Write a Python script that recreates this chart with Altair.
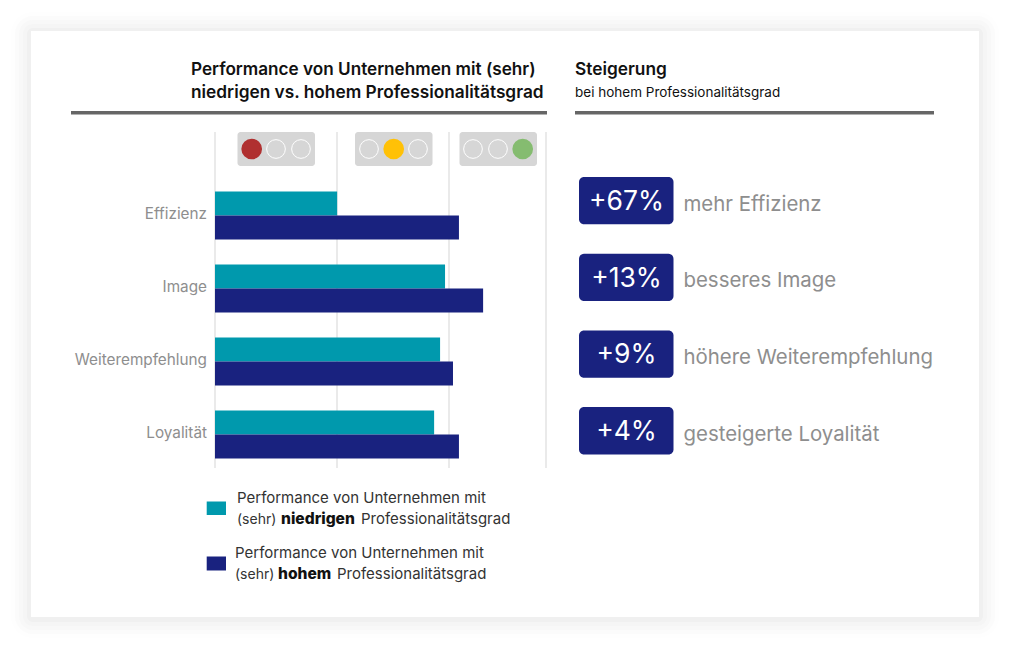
import altair as alt
import pandas as pd

categories = ["Effizienz", "Image", "Weiterempfehlung", "Loyalität"]
low_values = [36.9, 69.5, 68.0, 66.2]
high_values = [73.7, 81.0, 71.9, 73.7]
series_names = ["niedrig", "hoch"]
increase_labels = ["+67%", "+13%", "+9%", "+4%"]
increase_texts = ["mehr Effizienz", "besseres Image", "höhere Weiterempfehlung", "gesteigerte Loyalität"]
title_lines = ["Performance von Unternehmen mit (sehr)", "niedrigen vs. hohem Professionalitätsgrad"]
right_title = "Steigerung"
right_sub = "bei hohem Professionalitätsgrad"
legend_line = "Performance von Unternehmen mit"

TEAL = "#0099ad"
NAVY = "#19227f"
GREY = "#8e8e8e"
FONT = "Inter"
M = 8  # page margin: layout numbers below are in page pixels


def rect(x, x2, y, y2, color, radius=0, opacity=1):
    return alt.Chart(alt.Data(values=[{"k": 1}])).mark_rect(
        color=color, cornerRadius=radius, opacity=opacity
    ).encode(x=alt.value(x - M), x2=alt.value(x2 - M), y=alt.value(y - M), y2=alt.value(y2 - M))


def text(s, x, y, size, color="#111111", weight=400, align="left"):
    return alt.Chart(alt.Data(values=[{"k": 1}])).mark_text(
        text=s, font=FONT, fontSize=size, fontWeight=weight, color=color, align=align, baseline="alphabetic"
    ).encode(x=alt.value(x - M), y=alt.value(y - M))


def dot(x, y, fill):
    kw = dict(fill=fill, stroke=fill, fillOpacity=1) if fill else dict(fill="#d6d6d6", stroke="#ffffff", strokeWidth=1, fillOpacity=1)
    return alt.Chart(alt.Data(values=[{"k": 1}])).mark_point(shape="circle", size=350, **kw).encode(
        x=alt.value(x - M), y=alt.value(y - M)
    )


layers = []

# card shadow and card
for grow, col in [(20, "#fefefe"), (16, "#fbfbfb"), (12, "#f8f8f8"), (8, "#f5f5f5"), (4, "#f0f0f0")]:
    layers.append(rect(31 - grow, 979 + grow, 32 - grow, 618 + grow, col, radius=grow + 2))
layers.append(rect(31, 979, 31, 617, "#ffffff"))

# header
layers += [
    text(title_lines[0], 191, 75, 17.15, weight=600),
    text(title_lines[1], 191, 98, 17.3, weight=600),
    text(right_title, 575, 75, 17.3, weight=600),
    text(right_sub, 575, 97, 13.5),
    rect(71, 547, 111, 114.5, "#666666"),
    rect(575, 934, 111, 114.5, "#666666"),
]

# grid lines
for gx in [215, 337, 449, 546]:
    layers.append(rect(gx - 0.5, gx + 0.5, 132, 468, "#d6d6d6"))

# traffic lights
for bx, bx2, cxs, lit, col in [
    (237.5, 315, [251.7, 276, 301], 0, "#b03030"),
    (355, 432.5, [369, 393.7, 418], 1, "#ffc107"),
    (459.5, 537, [473, 498, 522.7], 2, "#85bc70"),
]:
    layers.append(rect(bx, bx2, 132, 166, "#d6d6d6", radius=3))
    for i, cx in enumerate(cxs):
        layers.append(dot(cx, 149, col if i == lit else None))

# bars
df = pd.DataFrame(
    {
        "category": categories * 2,
        "value": low_values + high_values,
        "series": [series_names[0]] * 4 + [series_names[1]] * 4,
    }
)
y_scale = alt.Scale(domain=categories, range=[179 - M, 471 - M], paddingInner=0, paddingOuter=0)
bars = alt.Chart(df).mark_bar(size=24).encode(
    x=alt.X("value:Q", scale=alt.Scale(domain=[0, 100], range=[215 - M, 546 - M]), axis=None),
    y=alt.Y("category:N", scale=y_scale, axis=None),
    yOffset=alt.YOffset("series:N", sort=series_names, scale=alt.Scale(paddingOuter=0.52, paddingInner=0)),
    color=alt.Color("series:N", scale=alt.Scale(domain=series_names, range=[TEAL, NAVY]), legend=None),
)
layers.append(bars)
labels = alt.Chart(pd.DataFrame({"category": categories})).mark_text(
    font=FONT, fontSize=15.3, color=GREY, align="right", baseline="middle", dy=-1.5
).encode(
    x=alt.value(207 - M),
    y=alt.Y("category:N", scale=y_scale, axis=None),
    text="category:N",
)
layers.append(labels)

# increases
for i, (lab, txt) in enumerate(zip(increase_labels, increase_texts)):
    top = 177 + i * 76.7
    layers.append(rect(579, 673.5, top, top + 47.3, NAVY, radius=5))
    layers.append(text(lab, 626.5, top + 33, 26.5, color="#ffffff", align="center"))
    layers.append(text(txt, 683.5, top + 33.5, 20.4, color=GREY))

# legend
LEG = 15
BOLD = 15.6
layers += [
    rect(206.7, 226, 501.5, 515, TEAL),
    text(legend_line, 237, 503, LEG, color="#333333"),
    text("(sehr)", 237, 524, 14, color="#333333"),
    text("niedrigen", 281, 524, BOLD, color="#111111", weight=800),
    text("Professionalitätsgrad", 361, 524, LEG, color="#333333"),
    rect(206.7, 226, 556.5, 570.5, NAVY),
    text(legend_line, 235, 558, LEG, color="#333333"),
    text("(sehr)", 235, 579, 14, color="#333333"),
    text("hohem", 278, 579, BOLD, color="#111111", weight=800),
    text("Professionalitätsgrad", 337, 579, LEG, color="#333333"),
]

chart = alt.layer(*layers).properties(
    width=999, height=634, padding=0, autosize=alt.AutoSizeParams(type="none"), background="#ffffff"
).configure_view(stroke=None)

chart.save("out.html", embed_options={"renderer": "svg", "actions": False})
